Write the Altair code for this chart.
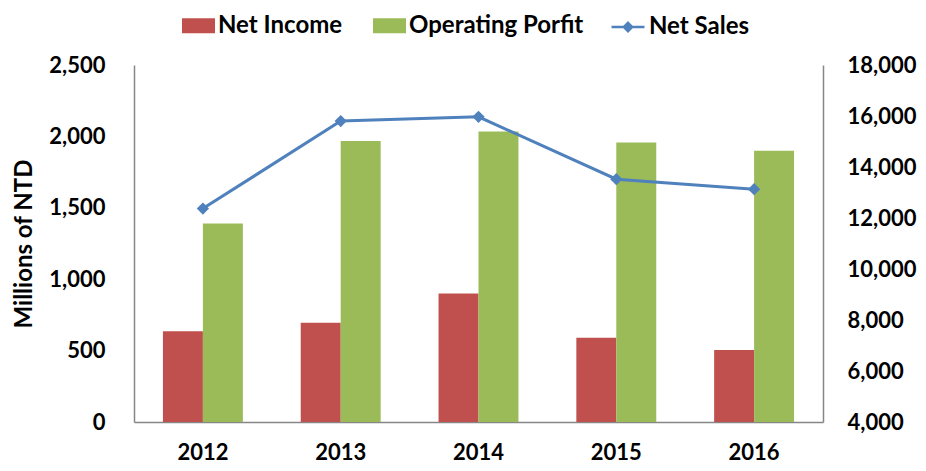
import altair as alt
import pandas as pd

years = ["2012", "2013", "2014", "2015", "2016"]
net_income = [635, 695, 900, 590, 505]
operating_profit = [1390, 1968, 2035, 1958, 1900]
net_sales = [12370, 15800, 15970, 13520, 13130]

bar_series = ["Net Income", "Operating Porfit"]
line_series = "Net Sales"
red, green, blue = "#c0504d", "#9bbb59", "#4f81bd"

bars_df = pd.DataFrame(
    {
        "year": years * 2,
        "series": [bar_series[0]] * 5 + [bar_series[1]] * 5,
        "value": net_income + operating_profit,
    }
)
line_df = pd.DataFrame({"year": years, "series": [line_series] * 5, "value": net_sales})

FONT = "Lato"

x_enc = alt.X(
    "year:N",
    sort=years,
    scale=alt.Scale(paddingInner=0.42, paddingOuter=0.21),
    axis=alt.Axis(title=None, labelAngle=0, labelPadding=20, ticks=False,
                  domainColor="#868686", domainWidth=1.5),
)

bars = alt.Chart(bars_df).mark_bar().encode(
    x=x_enc,
    xOffset=alt.XOffset("series:N", scale=alt.Scale(domain=bar_series, paddingInner=0, paddingOuter=0)),
    y=alt.Y(
        "value:Q",
        scale=alt.Scale(domain=[0, 2500], nice=False, zero=True),
        axis=alt.Axis(title="Millions of NTD", values=[0, 500, 1000, 1500, 2000, 2500],
                      format=",d", ticks=False, labelPadding=29, titlePadding=12,
                      titleFontSize=24, domainColor="#868686", domainWidth=1.5),
    ),
    color=alt.Color(
        "series:N",
        scale=alt.Scale(domain=bar_series, range=[red, green]),
        legend=alt.Legend(
            title=None, orient="none", direction="horizontal",
            legendX=48, legendY=-56, padding=0,
            symbolType="M-1,-0.45H1V0.45H-1Z", symbolSize=1089,
            symbolStrokeWidth=0, labelOffset=3, columnPadding=30,
        ),
    ),
)

line = alt.Chart(line_df).mark_line(
    strokeWidth=3,
    point=alt.OverlayMarkDef(shape="diamond", size=150, filled=True, color=blue),
).encode(
    x=alt.X("year:N", sort=years),
    y=alt.Y(
        "value:Q",
        scale=alt.Scale(domain=[4000, 18000], nice=False, zero=False),
        axis=alt.Axis(title=None, orient="right",
                      values=[4000, 6000, 8000, 10000, 12000, 14000, 16000, 18000],
                      format=",d", ticks=False, labelPadding=24,
                      domainColor="#868686", domainWidth=1.5),
    ),
    color=alt.Color(
        "series:N",
        scale=alt.Scale(domain=[line_series], range=[blue]),
        legend=alt.Legend(
            title=None, orient="none", direction="horizontal",
            legendX=476, legendY=-56, padding=0,
            symbolType="M-1,0H1M0,-0.25L0.25,0L0,0.25L-0.25,0Z", symbolSize=1089,
            symbolStrokeWidth=2.5, symbolFillColor=blue, symbolStrokeColor=blue,
            labelOffset=3,
        ),
    ),
)

chart = (
    alt.layer(bars, line)
    .resolve_scale(y="independent", color="independent")
    .properties(
        width=689, height=357,
        autosize=alt.AutoSizeParams(type="none"),
        padding={"left": 126, "top": 57, "right": 95, "bottom": 41},
    )
    .configure_view(strokeWidth=0)
    .configure_axis(
        labelFont=FONT, labelFontSize=22, labelFontWeight="bold", labelColor="#000000",
        titleFont=FONT, titleFontWeight="bold", titleColor="#000000", grid=False,
    )
    .configure_legend(
        labelFont=FONT, labelFontSize=24, labelFontWeight="bold", labelColor="#000000",
        labelLimit=0,
    )
)

chart.save("out.html", embed_options={"renderer": "svg", "actions": False})
